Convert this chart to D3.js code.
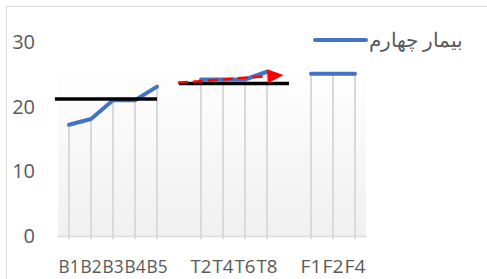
<!DOCTYPE html>
<html>
<head>
<meta charset="utf-8">
<script src="https://cdn.jsdelivr.net/npm/d3@7"></script>
<style>
  body { margin: 0; background: #fff; }
  svg text { font-family: "Open Sans", "Noto Sans", sans-serif; fill: #595959; }
</style>
</head>
<body>
<div id="chart"></div>
<script>
// categories ("" = empty slot between phases)
const categories = ["B1", "B2", "B3", "B4", "B5", "", "T2", "T4", "T6", "T8", "", "F1", "F2", "F4"];
const values = [17.2, 18.1, 21, 21, 23.1, null, 24.2, 24.2, 24.2, 25.4, null, 25.1, 25.1, 25.1];
const yTicks = [0, 10, 20, 30];
const seriesName = "بیمار چهارم";
// black level lines, in category index units
const levelLines = [
  { from: -0.64, to: 4, value: 21.2 },
  { from: 5, to: 10, value: 23.6 }
];
// red dashed trend arrow
const trendArrow = { from: 4.95, to: 9.75, v0: 23.7, v1: 24.9 };

const W = 487, H = 279;
const svg = d3.select("#chart").append("svg")
  .attr("width", W).attr("height", H);

// chart border
svg.append("rect")
  .attr("x", 6.5).attr("y", 6.5).attr("width", 520).attr("height", 320)
  .attr("fill", "#fff").attr("stroke", "#d9d9d9");

const x = d3.scaleBand().domain(d3.range(categories.length)).range([58, 366]);
const xi = d3.scaleLinear().domain([0, 1]).range([x(0) + x.bandwidth() / 2, x(1) + x.bandwidth() / 2]);
const y = d3.scaleLinear().domain([0, 30]).range([236, 42]);

// plot area gradient
const grad = svg.append("defs").append("linearGradient")
  .attr("id", "pa").attr("x1", 0).attr("y1", 0).attr("x2", 0).attr("y2", 1);
grad.append("stop").attr("offset", "0%").attr("stop-color", "#ffffff");
grad.append("stop").attr("offset", "100%").attr("stop-color", "#f0f0f0");
svg.append("rect")
  .attr("x", 58).attr("y", y(26.3)).attr("width", 308).attr("height", y(0) - y(26.3))
  .attr("fill", "url(#pa)");

// drop lines
svg.selectAll(".drop")
  .data(values.map((v, i) => ({ v, i })).filter(d => d.v != null))
  .enter().append("line")
  .attr("x1", d => xi(d.i)).attr("x2", d => xi(d.i))
  .attr("y1", d => y(d.v)).attr("y2", y(0) + 3)
  .attr("stroke", "#d9d9d9").attr("stroke-width", 2);

// axis baseline
svg.append("line")
  .attr("x1", 58).attr("x2", 366).attr("y1", y(0) + 0.5).attr("y2", y(0) + 0.5)
  .attr("stroke", "#d9d9d9").attr("stroke-width", 1.5);

// y axis labels
svg.selectAll(".ylab")
  .data(yTicks).enter().append("text")
  .attr("x", 35).attr("y", d => y(d))
  .attr("dy", "0.35em").attr("text-anchor", "end")
  .attr("font-size", 20)
  .text(d => d);

// x axis labels
svg.selectAll(".xlab")
  .data(categories.map((c, i) => ({ c, i })).filter(d => d.c))
  .enter().append("text")
  .attr("x", d => xi(d.i) - 10.5).attr("y", 273)
  .attr("font-size", 19)
  .attr("textLength", 21).attr("lengthAdjust", "spacingAndGlyphs")
  .text(d => d.c);

// series line
const line = d3.line()
  .defined(d => d != null)
  .x((d, i) => xi(i)).y(d => y(d));
svg.append("path")
  .attr("d", line(values))
  .attr("fill", "none").attr("stroke", "#4472c4").attr("stroke-width", 4)
  .attr("stroke-linejoin", "round").attr("stroke-linecap", "round");

// level lines
svg.selectAll(".level")
  .data(levelLines).enter().append("line")
  .attr("x1", d => xi(d.from)).attr("x2", d => xi(d.to))
  .attr("y1", d => y(d.value)).attr("y2", d => y(d.value))
  .attr("stroke", "#000").attr("stroke-width", 3.5);

// trend arrow
const ax0 = xi(trendArrow.from), ay0 = y(trendArrow.v0);
const ax1 = xi(trendArrow.to), ay1 = y(trendArrow.v1);
const ang = Math.atan2(ay1 - ay0, ax1 - ax0);
const hl = 16, hw = 7;
const bx = ax1 - hl * Math.cos(ang), by = ay1 - hl * Math.sin(ang);
svg.append("line")
  .attr("x1", ax0).attr("y1", ay0).attr("x2", bx).attr("y2", by)
  .attr("stroke", "#ff0000").attr("stroke-width", 2.5)
  .attr("stroke-dasharray", "10,5");
svg.append("path")
  .attr("d", `M${ax1},${ay1}L${bx - hw * Math.sin(ang)},${by + hw * Math.cos(ang)}L${bx + hw * Math.sin(ang)},${by - hw * Math.cos(ang)}Z`)
  .attr("fill", "#ff0000");

// legend
svg.append("line")
  .attr("x1", 315).attr("x2", 366).attr("y1", 40).attr("y2", 40)
  .attr("stroke", "#4472c4").attr("stroke-width", 4).attr("stroke-linecap", "round");
svg.append("text")
  .attr("x", 463).attr("y", 40).attr("dy", "0.35em")
  .attr("text-anchor", "end").attr("font-size", 20)
  .attr("font-family", "'Noto Sans', 'DejaVu Sans', sans-serif")
  .text(seriesName);
</script>
</body>
</html>
